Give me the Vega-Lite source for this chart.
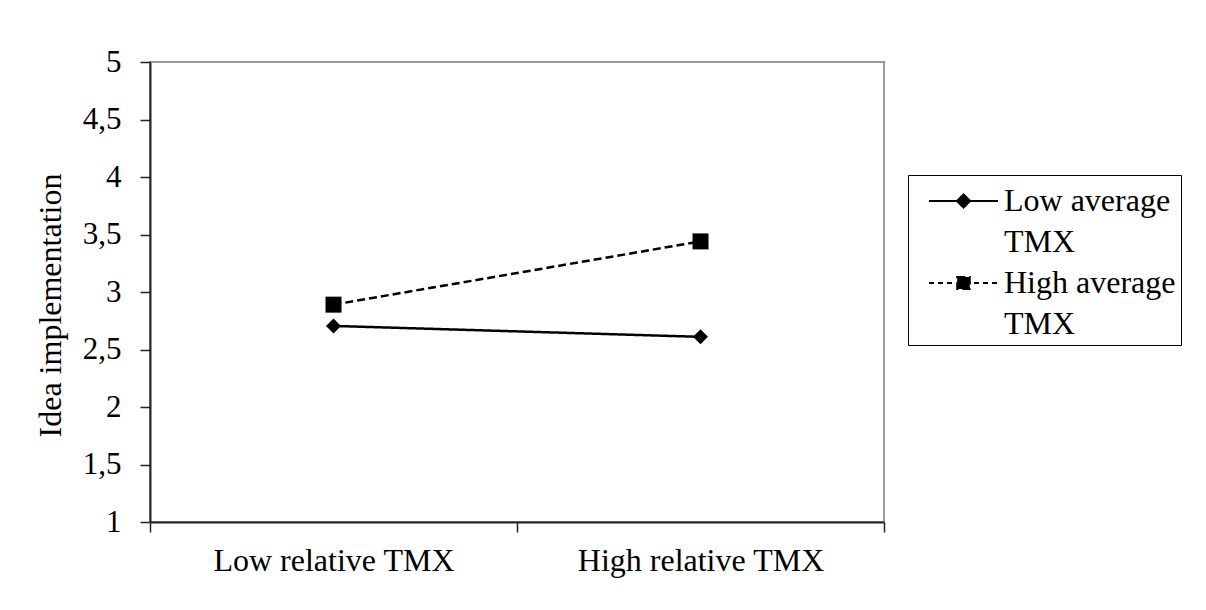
{
  "$schema": "https://vega.github.io/schema/vega-lite/v6.json",
  "autosize": {"type": "none"},
  "padding": {"left": 150, "top": 62, "right": 322, "bottom": 88},
  "width": 734,
  "height": 460,
  "background": "white",
  "config": {
    "font": "Liberation Serif",
    "view": {"stroke": "#9a9a9a", "strokeWidth": 2}
  },
  "data": {
    "values": [
      {"rel": "Low relative TMX", "avg": "Low average TMX", "value": 2.705},
      {"rel": "High relative TMX", "avg": "Low average TMX", "value": 2.61},
      {"rel": "Low relative TMX", "avg": "High average TMX", "value": 2.89},
      {"rel": "High relative TMX", "avg": "High average TMX", "value": 3.44}
    ]
  },
  "encoding": {
    "x": {
      "field": "rel", "type": "nominal",
      "sort": ["Low relative TMX", "High relative TMX"],
      "scale": {"paddingInner": 0, "paddingOuter": 0},
      "axis": {
        "title": null, "labelAngle": 0, "tickBand": "extent", "labelLimit": 500,
        "domainColor": "#222", "domainWidth": 2, "tickColor": "#222", "tickWidth": 1.5, "tickSize": 10,
        "labelFontSize": 32, "labelColor": "black", "labelPadding": 13
      }
    },
    "y": {
      "field": "value", "type": "quantitative",
      "scale": {"domain": [1, 5], "nice": false, "zero": false},
      "axis": {
        "title": "Idea implementation", "titleFontSize": 32, "titleFontWeight": "normal", "titleColor": "black",
        "titlePadding": 15, "titleY": 243,
        "values": [1, 1.5, 2, 2.5, 3, 3.5, 4, 4.5, 5],
        "labelExpr": "replace(toString(datum.value), '.', ',')",
        "grid": false,
        "domainColor": "#222", "domainWidth": 2, "tickColor": "#222", "tickWidth": 1.5, "tickSize": 10,
        "labelFontSize": 31, "labelColor": "black", "labelPadding": 19
      }
    }
  },
  "layer": [
    {
      "mark": {"type": "line", "color": "black", "strokeWidth": 2.5},
      "encoding": {
        "strokeDash": {
          "field": "avg", "type": "nominal",
          "sort": ["Low average TMX", "High average TMX"],
          "scale": {"domain": ["Low average TMX", "High average TMX"], "range": [[1, 0], [8, 4]]},
          "legend": {
            "title": null,
            "orient": "none", "legendX": 758, "legendY": 113,
            "strokeColor": "black", "padding": 5,
            "symbolSize": 1600, "symbolStrokeWidth": 2, "symbolStrokeColor": "black",
            "symbolFillColor": "black",
            "labelFontSize": 32, "labelColor": "black", "labelLimit": 400, "labelOffset": 49,
            "rowPadding": 4,
            "labelExpr": "datum.label == 'Low average TMX' ? ['Low average', 'TMX'] : ['High average\u00a0\u00a0', 'TMX']",
            "encode": {
              "symbols": {"update": {
                "shape": {"signal": "datum.value == 'Low average TMX' ? 'M-0.25,0L3.2,0M1.145,0L1.475,-0.33L1.805,0L1.475,0.33Z' : 'M-0.25,0L0,0M0.2,0L0.45,0M0.65,0L0.9,0M2,0L2.25,0M2.45,0L2.7,0M2.9,0L3.15,0M1.16,-0.3L1.79,-0.3L1.79,0.3L1.16,0.3Z'"},
                "strokeDash": {"signal": "[1, 0]"},
                "fill": {"value": "black"},
                "stroke": {"value": "black"},
                "strokeWidth": {"value": 2},
                "strokeOpacity": {"value": 1},
                "opacity": {"value": 1}
              }},
              "labels": {"update": {"lineHeight": {"value": 41}}}
            }
          }
        }
      }
    },
    {
      "mark": {"type": "point", "filled": true, "color": "black", "opacity": 1},
      "encoding": {
        "shape": {
          "condition": {"test": "datum.avg == 'Low average TMX'", "value": "diamond"},
          "value": "square"
        },
        "size": {
          "condition": {"test": "datum.avg == 'Low average TMX'", "value": 225},
          "value": 256
        }
      }
    }
  ]
}
